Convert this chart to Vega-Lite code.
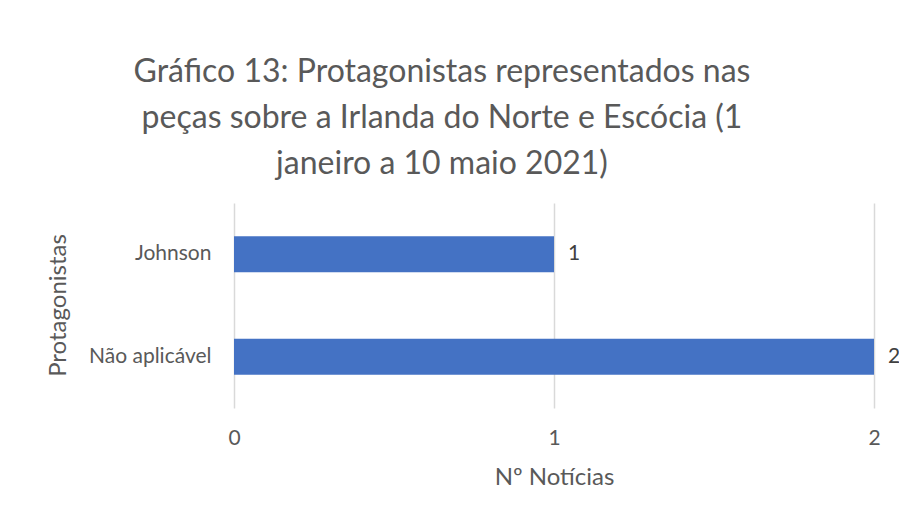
{
  "$schema": "https://vega.github.io/schema/vega-lite/v6.json",
  "autosize": {"type": "none"},
  "width": 640,
  "height": 205,
  "padding": {"left": 234, "top": 203, "right": 25, "bottom": 112},
  "background": "white",
  "title": {
    "text": ["Gráfico 13: Protagonistas representados nas", "peças sobre a Irlanda do Norte e Escócia (1", "janeiro a 10 maio 2021)"],
    "font": "Lato",
    "fontSize": 32,
    "fontWeight": "normal",
    "color": "#595959",
    "anchor": "middle",
    "frame": "group",
    "dx": -112,
    "lineHeight": 46,
    "offset": 22
  },
  "data": {
    "values": [
      {"protagonista": "Johnson", "noticias": 1},
      {"protagonista": "Não aplicável", "noticias": 2}
    ]
  },
  "encoding": {
    "y": {
      "field": "protagonista",
      "type": "nominal",
      "sort": ["Johnson", "Não aplicável"],
      "scale": {"paddingInner": 0.65, "paddingOuter": 0.325},
      "axis": {
        "title": "Protagonistas",
        "domain": false,
        "ticks": false,
        "labelPadding": 23,
        "labelFont": "Lato",
        "labelFontSize": 21,
        "labelColor": "#595959",
        "titleFont": "Lato",
        "titleFontSize": 24,
        "titleFontWeight": "normal",
        "titleColor": "#595959",
        "titleAngle": 270,
        "titleX": -176,
        "titleY": 102,
        "titleAlign": "center",
        "titleBaseline": "middle"
      }
    },
    "x": {
      "field": "noticias",
      "type": "quantitative",
      "scale": {"domain": [0, 2], "nice": false},
      "axis": {
        "title": "Nº Notícias",
        "tickCount": 2,
        "tickMinStep": 1,
        "format": "d",
        "domain": false,
        "ticks": false,
        "grid": true,
        "gridColor": "#d9d9d9",
        "gridWidth": 1.5,
        "labelOverlap": false,
        "labelFlush": false,
        "labelPadding": 19,
        "labelFont": "Lato",
        "labelFontSize": 21,
        "labelColor": "#595959",
        "titleFont": "Lato",
        "titleFontSize": 24,
        "titleFontWeight": "normal",
        "titleColor": "#595959",
        "titleY": 69,
        "titleBaseline": "middle"
      }
    }
  },
  "layer": [
    {"mark": {"type": "bar", "color": "#4472C4"}},
    {
      "mark": {"type": "text", "align": "left", "baseline": "middle", "dx": 14, "font": "Lato", "fontSize": 21, "color": "#404040"},
      "encoding": {"text": {"field": "noticias", "type": "quantitative"}}
    }
  ],
  "config": {"view": {"stroke": null}}
}
